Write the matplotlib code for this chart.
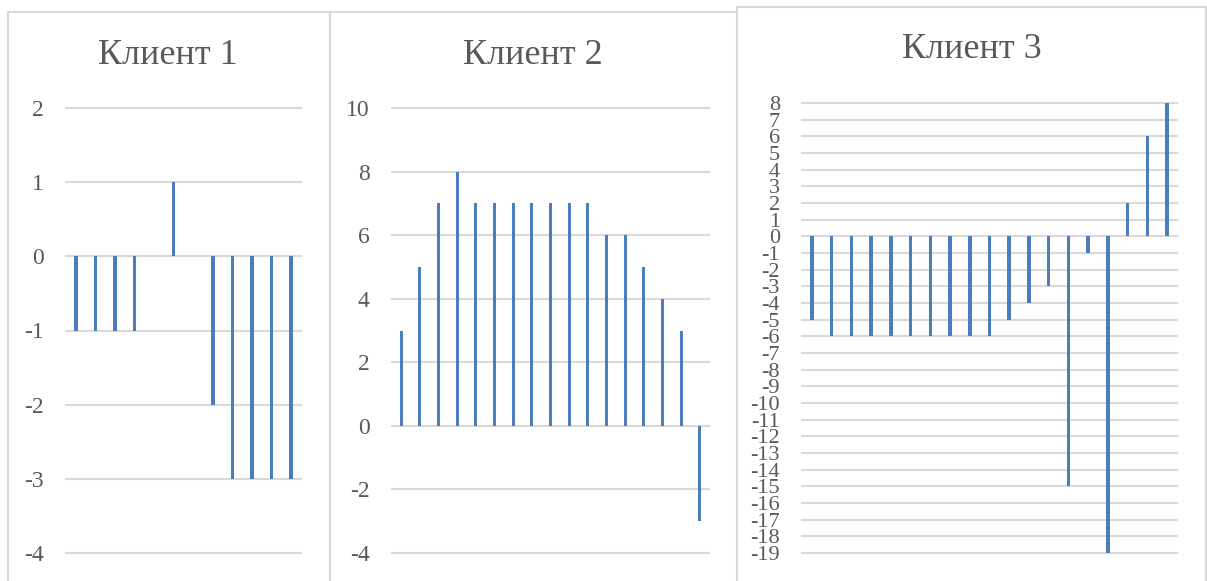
import matplotlib
matplotlib.use('Agg')
import matplotlib.pyplot as plt
from matplotlib.patches import Rectangle
import numpy as np

titles = ['Клиент 1', 'Клиент 2', 'Клиент 3']
client1 = [-1, -1, -1, -1, 0, 1, 0, -2, -3, -3, -3, -3]
client2 = [3, 5, 7, 8, 7, 7, 7, 7, 7, 7, 7, 6, 6, 5, 4, 3, -3]
client3 = [-5, -6, -6, -6, -6, -6, -6, -6, -6, -6, -5, -4, -3, -15, -1, -19, 2, 6, 8]
y_ticks1 = list(range(-4, 3))
y_ticks2 = list(range(-4, 11, 2))
y_ticks3 = list(range(-19, 9))

W, H = 1207, 581
plt.rcParams['font.family'] = ['Liberation Serif', 'DejaVu Serif']
fig = plt.figure(figsize=(W / 100, H / 100), dpi=100)

bar_color = '#4a7ebb'
grid_color = '#d9d9d9'
text_color = '#595959'

def px(x0, y0, x1, y1):
    # pixel box (top-left origin) -> figure fraction rect
    return [x0 / W, 1 - y1 / H, (x1 - x0) / W, (y1 - y0) / H]

# chart frames
frames = [(8, 12, 330), (330, 12, 737), (737, 7, 1206)]
for x0, y0, x1 in frames:
    fig.patches.append(Rectangle((x0 / W, -0.05), (x1 - x0) / W, 1.05 - y0 / H,
                                 transform=fig.transFigure, fill=False,
                                 edgecolor=grid_color, linewidth=1.5))

panels = [
    (client1, y_ticks1, px(66, 108, 301, 553), (168, 55), 17, 0.18),
    (client2, y_ticks2, px(392, 108, 709, 553), (533, 55), 17, 0.16),
    (client3, y_ticks3, px(802, 103, 1177, 553), (972, 49), 16, 0.18),
]

for (vals, ticks, rect, tpos, fs, bw), title in zip(panels, titles):
    ax = fig.add_axes(rect)
    x = np.arange(len(vals))
    ax.bar(x, vals, width=bw, color=bar_color, zorder=3)
    ax.set_xlim(-0.5, len(vals) - 0.5)
    ax.set_ylim(ticks[0], ticks[-1])
    ax.set_yticks(ticks)
    ax.set_yticklabels([str(t) for t in ticks])
    ax.set_xticks([])
    ax.grid(axis='y', color=grid_color, linewidth=1.5, zorder=0)
    ax.tick_params(axis='y', length=0, pad=16, labelsize=fs, labelcolor=text_color)
    for s in ax.spines.values():
        s.set_visible(False)
    for gl in ax.get_ygridlines():
        gl.set_clip_on(False)
    fig.text(tpos[0] / W, 1 - tpos[1] / H, title, ha='center', va='center',
             fontsize=26, color=text_color)

fig.savefig('out.png', dpi=100)
